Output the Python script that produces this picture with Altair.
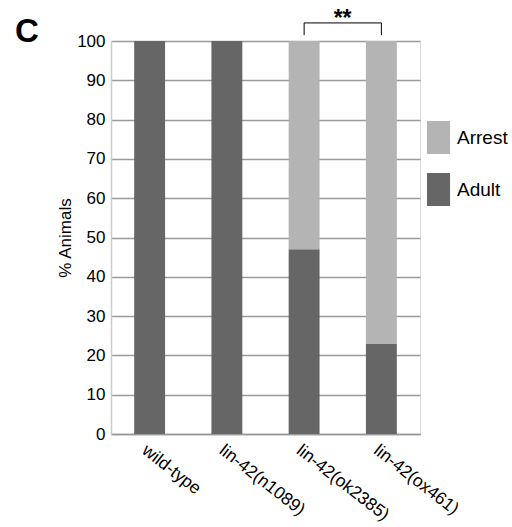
import altair as alt
import pandas as pd

categories = ["wild-type", "lin-42(n1089)", "lin-42(ok2385)", "lin-42(ox461)"]
adult = [100, 100, 47, 23]
arrest = [0, 0, 53, 77]
series = ["Arrest", "Adult"]
colors = ["#b4b4b4", "#666666"]
y_ticks = [0, 10, 20, 30, 40, 50, 60, 70, 80, 90, 100]
sig_pair = ["lin-42(ok2385)", "lin-42(ox461)"]
sig_label = "**"

rows = []
for c, a, r in zip(categories, adult, arrest):
    rows.append({"cat": c, "status": "Adult", "pct": a, "ord": 0})
    rows.append({"cat": c, "status": "Arrest", "pct": r, "ord": 1})
df = pd.DataFrame(rows)

FONT = "Liberation Sans, Arial, sans-serif"

xscale = alt.Scale(domain=categories, paddingInner=0.6, paddingOuter=0.3)
yscale = alt.Scale(domain=[0, 100], nice=False)

xaxis = alt.Axis(title=None, labelAngle=38, labelAlign="left", labelBaseline="top",
                 ticks=False, labelPadding=7, labelFontSize=17.5,
                 labelFont=FONT, labelColor="#000",
                 domainColor="#999999", domainWidth=1.5, grid=False, labelLimit=300)
yaxis = alt.Axis(title="% Animals", values=y_ticks, ticks=False, labelPadding=6,
                 labelOverlap=False,
                 labelFontSize=17, labelFont=FONT, labelColor="#000",
                 titleFontSize=17, titleFont=FONT,
                 titleFontWeight="normal", titleColor="#000", titlePadding=2,
                 domainColor="#cccccc", domainWidth=1.5,
                 grid=True, gridColor="#9a9a9a", gridWidth=1.5)

bars = alt.Chart(df).mark_bar().encode(
    x=alt.X("cat:N", scale=xscale, sort=categories, axis=xaxis),
    y=alt.Y("pct:Q", scale=yscale, stack="zero", axis=yaxis),
    color=alt.Color("status:N", scale=alt.Scale(domain=series, range=colors),
                    legend=alt.Legend(title=None, orient="none", legendX=311, legendY=80,
                                      symbolType="M-0.7,-1H0.7V1H-0.7Z", symbolSize=1089,
                                      symbolStrokeWidth=0, labelFontSize=19,
                                      labelFont=FONT,
                                      labelColor="#000", labelAlign="left", labelOffset=2,
                                      rowPadding=19, labelLimit=200)),
    order=alt.Order("ord:Q"),
)

br = pd.DataFrame({"a": [sig_pair[0]], "b": [sig_pair[1]], "top": [104.6], "bot": [101.5],
                   "ty": [103.9], "lab": [sig_label]})

hline = alt.Chart(br).mark_rule(color="#000", strokeWidth=1).encode(
    x=alt.X("a:N", scale=xscale, sort=categories, axis=xaxis), x2="b:N",
    y=alt.Y("top:Q", scale=yscale, axis=yaxis))
vl = alt.Chart(br).mark_rule(color="#000", strokeWidth=1).encode(
    x=alt.X("a:N", scale=xscale, sort=categories, axis=xaxis),
    y=alt.Y("top:Q", scale=yscale, axis=yaxis), y2="bot:Q")
vr = alt.Chart(br).mark_rule(color="#000", strokeWidth=1).encode(
    x=alt.X("b:N", scale=xscale, sort=categories, axis=xaxis),
    y=alt.Y("top:Q", scale=yscale, axis=yaxis), y2="bot:Q")
star = alt.Chart(br).mark_text(fontSize=23, fontWeight="bold", font=FONT,
                               baseline="alphabetic", align="center", dx=38.5, color="#000").encode(
    x=alt.X("a:N", scale=xscale, sort=categories, axis=xaxis),
    y=alt.Y("ty:Q", scale=yscale, axis=yaxis), text="lab:N")

panel = alt.Chart(pd.DataFrame({"t": ["C"]})).mark_text(
    fontSize=33, fontWeight="bold", font=FONT,
    align="left", baseline="alphabetic", color="#000").encode(
    x=alt.value(-96), y=alt.value(1), text="t:N")

chart = alt.layer(bars, hline, vl, vr, star, panel).properties(
    width=309, height=393,
    autosize=alt.AutoSizeParams(type="none"),
    padding={"left": 111, "top": 41, "right": 92, "bottom": 93},
).configure_view(stroke=None).configure(background="white")

chart.save("out.html", embed_options={"renderer": "svg", "actions": False})
